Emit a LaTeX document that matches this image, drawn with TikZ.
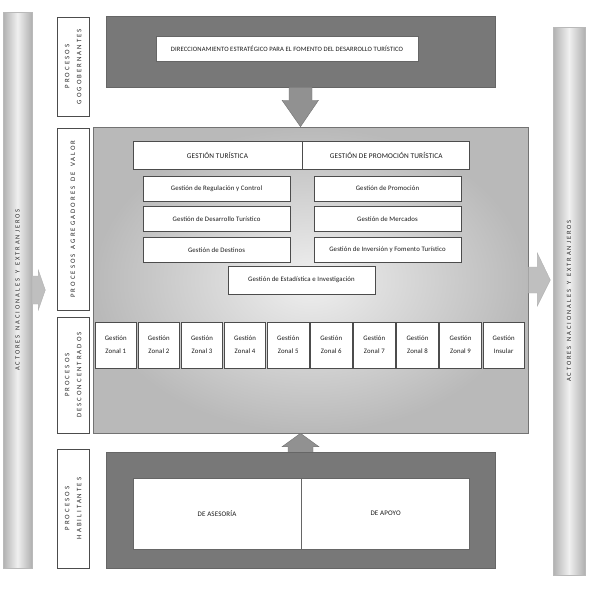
\documentclass[tikz,border=0pt]{standalone}
\usepackage{fontspec}
\setmainfont{Carlito}
\newfontfamily\spacedfont[LetterSpace=30,WordSpace=1.4]{Carlito}
\newfontfamily\boxfont[LetterSpace=2]{Carlito}
\usetikzlibrary{positioning,calc}
\tikzset{
  bar/.style={draw=gray!55,line width=0.6pt,left color=gray!62,right color=gray!62,middle color=gray!12,
    inner sep=0pt,text=gray!30!black,font=\spacedfont\fontsize{6.5}{8}\selectfont},
  lab/.style={draw=black!70,fill=white,line width=0.6pt,inner sep=0pt,minimum width=32,
    text=gray!30!black,font=\spacedfont\fontsize{6.8}{12}\selectfont},
  dark/.style={draw=black!60,fill=black!53,line width=0.5pt,inner sep=0pt},
  valbg/.style={draw=black!55,line width=0.6pt,inner color=gray!12,outer color=gray!55,inner sep=0pt},
  gbox/.style={draw=black!70,fill=white,line width=0.8pt,inner sep=0pt,text=gray!20!black,
    font=\boxfont\fontsize{6.8}{8}\selectfont},
  hbox/.style={gbox,minimum height=28,font=\boxfont\fontsize{7.3}{8}\selectfont},
  zbox/.style={gbox,minimum width=41.5,minimum height=46,align=center,font=\boxfont\fontsize{6.8}{13}\selectfont},
  wbox/.style={draw=black!60,fill=white,line width=0.6pt,inner sep=0pt,text=gray!20!black,
    font=\boxfont\fontsize{7}{8}\selectfont},
  barrow/.style={fill=black!43,draw=black!55,line width=0.4pt},
  larrow/.style={fill=gray!50,draw=gray!60,line width=0.4pt},
}
\begin{document}
\begin{tikzpicture}[x=1pt,y=-1pt]
  \useasboundingbox (0,0) rectangle (590,589);
  % actores (side bars)
  \node[bar,minimum width=29,minimum height=556] (barL) at (17.5,290)
    {\rotatebox{90}{ACTORES NACIONALES Y EXTRANJEROS}};
  \node[bar,minimum width=32,minimum height=548] (barR) at (569,301)
    {\rotatebox{90}{ACTORES NACIONALES Y EXTRANJEROS}};
  % process labels
  \node[lab,minimum height=99] (lgob) at (73,66.5)
    {\rotatebox{90}{\begin{tabular}{@{}c@{}}PROCESOS\\GOGOBERNANTES\end{tabular}}};
  \node[lab,minimum height=182] (lagr) at (73,219)
    {\rotatebox{90}{PROCESOS AGREGADORES DE VALOR}};
  \node[lab,minimum height=116] (ldes) at (73,375)
    {\rotatebox{90}{\begin{tabular}{@{}c@{}}PROCESOS\\DESCONCENTRADOS\end{tabular}}};
  \node[lab,minimum height=119] (lhab) at (73,508.5)
    {\rotatebox{90}{\begin{tabular}{@{}c@{}}PROCESOS\\HABILITANTES\end{tabular}}};
  % gobernantes
  \node[dark,minimum width=389,minimum height=71] (gob) at (300.5,51.5) {};
  \node[wbox,minimum width=262,minimum height=25,font=\boxfont\fontsize{6.6}{7}\selectfont] (dir) at (287,48.5)
    {DIRECCIONAMIENTO ESTRATÉGICO PARA EL FOMENTO DEL DESARROLLO TURÍSTICO};
  % agregadores de valor
  \node[valbg,minimum width=435,minimum height=306] (val) at (310.5,280) {};
  \node[hbox,minimum width=169] (gtur) at (217.5,155) {GESTIÓN TURÍSTICA};
  \node[hbox,minimum width=167,right=0pt of gtur] (gpro) {GESTIÓN DE PROMOCIÓN TURÍSTICA};
  \node[gbox,minimum width=147,minimum height=25] (reg) at (216.5,188.5) {Gestión de Regulación y Control};
  \node[gbox,minimum width=147,minimum height=25,below=4.5pt of reg] (dtur) {Gestión de Desarrollo Turístico};
  \node[gbox,minimum width=147,minimum height=25,below=5.5pt of dtur] (dest) {Gestión de Destinos};
  \node[gbox,minimum width=147,minimum height=25] (prom) at (387.5,188.5) {Gestión de Promoción};
  \node[gbox,minimum width=147,minimum height=25,below=4.5pt of prom] (merc) {Gestión de Mercados};
  \node[gbox,minimum width=147,minimum height=25,below=5.5pt of merc] (inv) {Gestión de Inversión y Fomento Turístico};
  \node[gbox,minimum width=147,minimum height=28] (est) at (301.5,280) {Gestión de Estadística e Investigación};
  % desconcentrados
  \foreach \i/\t in {1/Zonal 1,2/Zonal 2,3/Zonal 3,4/Zonal 4,5/Zonal 5,6/Zonal 6,7/Zonal 7,8/Zonal 8,9/Zonal 9,10/Insular}
    \node[zbox] (z\i) at ({95+20.75+(\i-1)*43.1},345) {Gestión\\\t};
  % habilitantes
  \node[dark,minimum width=389,minimum height=116] (hab) at (300.5,510) {};
  \node[wbox,minimum width=168,minimum height=71] (ase) at (217,513.5) {DE ASESORÍA};
  \node[wbox,minimum width=168,minimum height=71,right=0pt of ase] (apo) {DE APOYO};
  % block arrows
  \draw[barrow] ($(gob.south)+(-11.5,0)$) -- ($(gob.south)+(-11.5,13)$) -- ($(gob.south)+(-18.5,13)$)
    -- (gob.south |- val.north) -- ($(gob.south)+(18,13)$) -- ($(gob.south)+(11.5,13)$) -- ($(gob.south)+(11.5,0)$);
  \draw[barrow] ($(hab.north)+(-12.5,0)$) -- ($(hab.north)+(-12.5,-5)$) -- ($(hab.north)+(-18.5,-5)$)
    -- (hab.north |- val.south) -- ($(hab.north)+(18.5,-5)$) -- ($(hab.north)+(12.5,-5)$) -- ($(hab.north)+(12.5,0)$);
  \draw[larrow] ($(val.east)+(0,-13)$) -- ($(val.east)+(9,-13)$) -- ($(val.east)+(9,-27)$) -- ($(val.east)+(22,0)$)
    -- ($(val.east)+(9,26)$) -- ($(val.east)+(9,13)$) -- ($(val.east)+(0,13)$);
  \draw[larrow] ($(barL.east)+(0,-14)$) -- ($(barL.east)+(6,-14)$) -- ($(barL.east)+(6,-20)$) -- ($(barL.east)+(13,0)$)
    -- ($(barL.east)+(6,20)$) -- ($(barL.east)+(6,14)$) -- ($(barL.east)+(0,14)$);
\end{tikzpicture}
\end{document}
